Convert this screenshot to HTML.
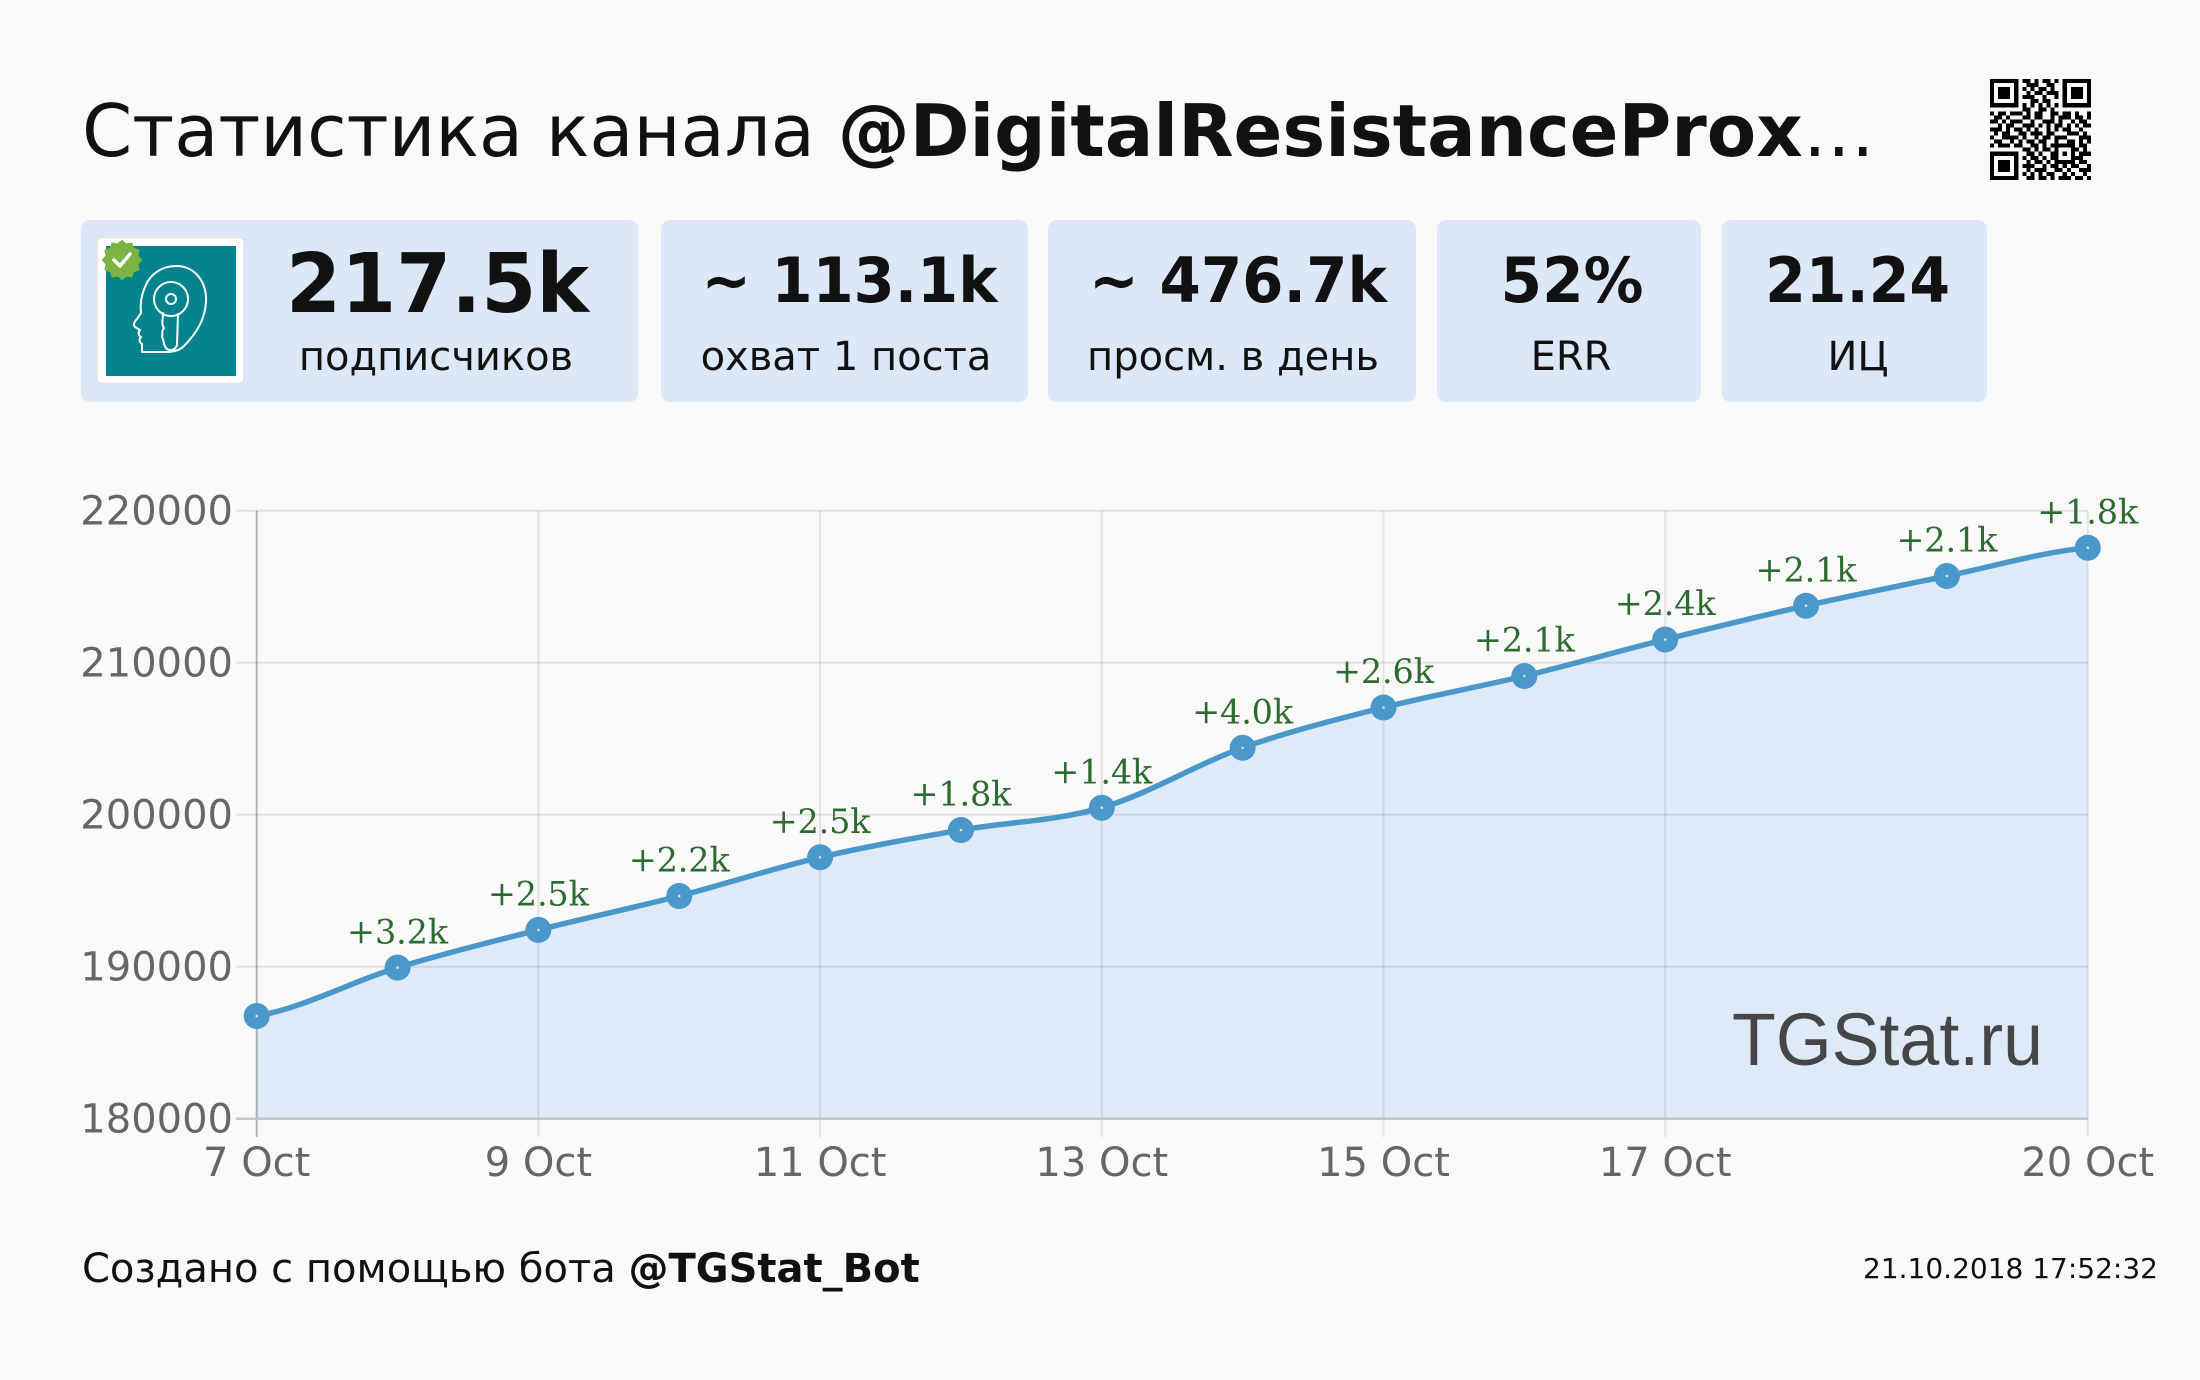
<!DOCTYPE html>
<html><head><meta charset="utf-8"><style>
html,body{margin:0;padding:0;background:#f9f9f9;}
svg{display:block;}
</style></head><body>
<svg width="2200" height="1380" viewBox="0 0 2200 1380" xmlns="http://www.w3.org/2000/svg" font-family="'DejaVu Sans', sans-serif">
<rect width="2200" height="1380" fill="#f9f9f9"/>

<!-- Title -->
<text x="82" y="156" font-size="72" fill="#111">Статистика канала <tspan font-weight="bold">@DigitalResistanceProx</tspan>…</text>

<!-- QR -->
<g transform="translate(1990,79) scale(4.04)" stroke="#000" stroke-width="1" shape-rendering="crispEdges" fill="none">
<line x1="0" x2="25" y1="0.5" y2="0.5" stroke-dasharray="7 1 2 1 1 1 2 1 1 1 7"/>
<line x1="0" x2="25" y1="1.5" y2="1.5" stroke-dasharray="1 5 1 2 3 2 2 2 1 5 1"/>
<line x1="0" x2="25" y1="2.5" y2="2.5" stroke-dasharray="1 1 3 1 1 1 1 1 1 1 2 1 1 2 1 1 3 1 1"/>
<line x1="0" x2="25" y1="3.5" y2="3.5" stroke-dasharray="1 1 3 1 1 2 1 1 2 1 3 1 1 1 3 1 1"/>
<line x1="0" x2="25" y1="4.5" y2="4.5" stroke-dasharray="1 1 3 1 1 1 3 2 1 2 1 1 1 1 3 1 1"/>
<line x1="0" x2="25" y1="5.5" y2="5.5" stroke-dasharray="1 5 1 3 2 1 2 3 1 5 1"/>
<line x1="0" x2="25" y1="6.5" y2="6.5" stroke-dasharray="7 1 1 1 1 1 1 1 1 1 1 1 7"/>
<line x1="0" x2="25" y1="7.5" y2="7.5" stroke-dasharray="0 8 2 2 2 1 1 9"/>
<line x1="0" x2="25" y1="8.5" y2="8.5" stroke-dasharray="1 1 2 1 3 1 1 1 2 2 2 1 2 1 1 2 1"/>
<line x1="0" x2="25" y1="9.5" y2="9.5" stroke-dasharray="0 1 2 1 1 3 2 1 2 2 1 1 3 1 2 1 1"/>
<line x1="0" x2="25" y1="10.5" y2="10.5" stroke-dasharray="2 1 1 1 3 2 1 2 3 1 1 2 1 1 2 1"/>
<line x1="0" x2="25" y1="11.5" y2="11.5" stroke-dasharray="0 2 1 1 2 2 3 1 1 1 1 1 2 1 1 1 1 1 2"/>
<line x1="0" x2="25" y1="12.5" y2="12.5" stroke-dasharray="3 1 1 1 2 1 1 1 1 2 1 1 1 1 2 2 1 2"/>
<line x1="0" x2="25" y1="13.5" y2="13.5" stroke-dasharray="0 1 1 1 2 2 2 1 3 1 2 3 3 1 1 1"/>
<line x1="0" x2="25" y1="14.5" y2="14.5" stroke-dasharray="1 2 4 1 1 2 1 1 2 1 3 3 3"/>
<line x1="0" x2="25" y1="15.5" y2="15.5" stroke-dasharray="0 1 2 2 1 1 1 1 2 1 2 2 1 2 2 1 1 1 1"/>
<line x1="0" x2="25" y1="16.5" y2="16.5" stroke-dasharray="1 1 3 1 2 2 2 1 1 1 6 1 2 1"/>
<line x1="0" x2="25" y1="17.5" y2="17.5" stroke-dasharray="0 8 2 1 1 1 2 1 1 3 2 1 1 1"/>
<line x1="0" x2="25" y1="18.5" y2="18.5" stroke-dasharray="7 2 2 1 1 2 2 1 1 1 1 1 3"/>
<line x1="0" x2="25" y1="19.5" y2="19.5" stroke-dasharray="1 5 1 1 1 1 2 1 1 1 2 3 3 2"/>
<line x1="0" x2="25" y1="20.5" y2="20.5" stroke-dasharray="1 1 3 1 1 2 1 1 2 1 1 1 5 1 2 1"/>
<line x1="0" x2="25" y1="21.5" y2="21.5" stroke-dasharray="1 1 3 1 1 1 3 2 1 1 2 1 1 1 2 2 1"/>
<line x1="0" x2="25" y1="22.5" y2="22.5" stroke-dasharray="1 1 3 1 1 2 1 1 3 2 2 1 1 2 3"/>
<line x1="0" x2="25" y1="23.5" y2="23.5" stroke-dasharray="1 5 1 1 1 1 1 1 1 1 2 2 1 1 1 2 1 1"/>
<line x1="0" x2="25" y1="24.5" y2="24.5" stroke-dasharray="7 2 2 1 2 1 1 1 3 1 2 1 1"/>
</g>

<!-- Cards -->
<g fill="#dce7f7">
<rect x="81" y="220" width="557" height="182" rx="9"/>
<rect x="661" y="220" width="367" height="182" rx="9"/>
<rect x="1048" y="220" width="368" height="182" rx="9"/>
<rect x="1437" y="220" width="264" height="182" rx="9"/>
<rect x="1722" y="220" width="265" height="182" rx="9"/>
</g>

<!-- Logo -->
<rect x="97" y="237.5" width="147" height="146" rx="5" fill="#fff" stroke="#e2e2e2" stroke-width="1.5"/>
<rect x="106" y="246" width="130" height="130" fill="#02838e"/>
<g fill="none" stroke="#fff" stroke-width="2" stroke-linejoin="round" stroke-linecap="round">
<path d="M142 352 L142 344 C139 342 139 339 141 337 C138 335 138 332 140 330 L135 327 C133 325 134 322 137 319 L141 313 C140 305 141 296 145 287 C150 274 162 266 176 266 C195 266 207 282 206 302 C205 320 196 334 184 346 C180 350 174 352 166 352 L142 352"/>
<circle cx="171" cy="299" r="17"/>
<circle cx="171" cy="299" r="5"/>
<path d="M163 313 C163 320 161 324 164 328 C161 331 163 334 162 337 C164 340 163 344 166 348 C170 352 175 350 177 345 L178 314"/>
</g>
<polygon fill="#7cb342" stroke="#7cb342" stroke-width="2" stroke-linejoin="round" points="141,260 137.46,264.14 138.45,269.5 133.31,271.31 131.5,276.45 126.14,275.46 122,279 117.86,275.46 112.5,276.45 110.69,271.31 105.55,269.5 106.54,264.14 103,260 106.54,255.86 105.55,250.5 110.69,248.69 112.5,243.55 117.86,244.54 122,241 126.14,244.54 131.5,243.55 133.31,248.69 138.45,250.5 137.46,255.86"/>
<path d="M114 260 L120 266 L130 254" fill="none" stroke="#fff" stroke-width="3.5" stroke-linecap="round" stroke-linejoin="round"/>

<!-- Card texts -->
<g fill="#111" text-anchor="middle">
<text x="437.5" y="312" font-size="82" font-weight="bold" textLength="303" lengthAdjust="spacingAndGlyphs">217.5k</text>
<text x="436" y="370" font-size="40">подписчиков</text>
<text x="849.5" y="302" font-size="62" font-weight="bold" textLength="296" lengthAdjust="spacingAndGlyphs">~ 113.1k</text>
<text x="846" y="370" font-size="40">охват 1 поста</text>
<text x="1238" y="302" font-size="62" font-weight="bold" textLength="298" lengthAdjust="spacingAndGlyphs">~ 476.7k</text>
<text x="1233" y="370" font-size="40">просм. в день</text>
<text x="1572" y="302" font-size="62" font-weight="bold" textLength="143" lengthAdjust="spacingAndGlyphs">52%</text>
<text x="1571" y="370" font-size="40">ERR</text>
<text x="1857.6" y="302" font-size="62" font-weight="bold" textLength="185" lengthAdjust="spacingAndGlyphs">21.24</text>
<text x="1858" y="370" font-size="40">ИЦ</text>
</g>

<!-- Chart area fill -->
<path fill="#dfeaf9" d="M256.7,1016 C303.65,1007.93 350.6,981.95 397.55,967.6 C444.5,953.25 491.45,941.83 538.4,929.9 C585.35,917.97 632.3,908.1 679.25,896 C726.2,883.9 773.15,868.3 820.1,857.3 C867.05,846.3 914,838.27 960.95,830 C1007.9,821.73 1054.85,821.4 1101.8,807.7 C1148.75,794 1195.7,764.5 1242.65,747.8 C1289.6,731.1 1336.55,719.47 1383.5,707.5 C1430.45,695.53 1477.4,687.33 1524.35,676 C1571.3,664.67 1618.25,651.22 1665.2,639.5 C1712.15,627.78 1759.1,616.28 1806.05,605.7 C1853,595.12 1899.95,585.67 1946.9,576 C1993.85,566.33 2040.8,552.42 2087.75,547.7 L2087.75,1118.7 L256.7,1118.7 Z"/>

<!-- Grid -->
<g stroke="rgba(0,0,0,0.09)" stroke-width="2">
<line x1="236" x2="2088" y1="510.7" y2="510.7"/>
<line x1="236" x2="2088" y1="662.7" y2="662.7"/>
<line x1="236" x2="2088" y1="814.7" y2="814.7"/>
<line x1="236" x2="2088" y1="966.7" y2="966.7"/>
<line x1="538.4" x2="538.4" y1="510.7" y2="1137"/>
<line x1="820.1" x2="820.1" y1="510.7" y2="1137"/>
<line x1="1101.8" x2="1101.8" y1="510.7" y2="1137"/>
<line x1="1383.5" x2="1383.5" y1="510.7" y2="1137"/>
<line x1="1665.2" x2="1665.2" y1="510.7" y2="1137"/>
<line x1="2087.75" x2="2087.75" y1="510.7" y2="1137"/>
</g>
<line x1="256.7" x2="256.7" y1="510.7" y2="1137" stroke="rgba(0,0,0,0.28)" stroke-width="2"/>
<line x1="236" x2="2088" y1="1118.7" y2="1118.7" stroke="#c2c5cc" stroke-width="2.5"/>

<!-- Y labels -->
<g fill="#666" font-size="40" text-anchor="end">
<text x="233" y="524.5">220000</text>
<text x="233" y="676.5">210000</text>
<text x="233" y="828.5">200000</text>
<text x="233" y="980.5">190000</text>
<text x="233" y="1132.5">180000</text>
</g>
<!-- X labels -->
<g fill="#666" font-size="40" text-anchor="middle">
<text x="256.7" y="1176">7 Oct</text>
<text x="538.4" y="1176">9 Oct</text>
<text x="820.1" y="1176">11 Oct</text>
<text x="1101.8" y="1176">13 Oct</text>
<text x="1383.5" y="1176">15 Oct</text>
<text x="1665.2" y="1176">17 Oct</text>
<text x="2087.75" y="1176">20 Oct</text>
</g>

<!-- Watermark -->
<text x="1732" y="1065" font-family="'Liberation Sans', sans-serif" font-size="74" fill="#464649" textLength="311" lengthAdjust="spacingAndGlyphs">TGStat.ru</text>

<!-- Line -->
<path fill="none" stroke="#4a97c9" stroke-width="5.5" stroke-linejoin="round" d="M256.7,1016 C303.65,1007.93 350.6,981.95 397.55,967.6 C444.5,953.25 491.45,941.83 538.4,929.9 C585.35,917.97 632.3,908.1 679.25,896 C726.2,883.9 773.15,868.3 820.1,857.3 C867.05,846.3 914,838.27 960.95,830 C1007.9,821.73 1054.85,821.4 1101.8,807.7 C1148.75,794 1195.7,764.5 1242.65,747.8 C1289.6,731.1 1336.55,719.47 1383.5,707.5 C1430.45,695.53 1477.4,687.33 1524.35,676 C1571.3,664.67 1618.25,651.22 1665.2,639.5 C1712.15,627.78 1759.1,616.28 1806.05,605.7 C1853,595.12 1899.95,585.67 1946.9,576 C1993.85,566.33 2040.8,552.42 2087.75,547.7"/>

<!-- Points -->
<g fill="#4a97c9">
<circle cx="256.7" cy="1016" r="13"/>
<circle cx="397.55" cy="967.6" r="13"/>
<circle cx="538.4" cy="929.9" r="13"/>
<circle cx="679.25" cy="896" r="13"/>
<circle cx="820.1" cy="857.3" r="13"/>
<circle cx="960.95" cy="830" r="13"/>
<circle cx="1101.8" cy="807.7" r="13"/>
<circle cx="1242.65" cy="747.8" r="13"/>
<circle cx="1383.5" cy="707.5" r="13"/>
<circle cx="1524.35" cy="676" r="13"/>
<circle cx="1665.2" cy="639.5" r="13"/>
<circle cx="1806.05" cy="605.7" r="13"/>
<circle cx="1946.9" cy="576" r="13"/>
<circle cx="2087.75" cy="547.7" r="13"/>
</g>
<g fill="#cfe2f2">
<circle cx="256.7" cy="1016" r="1.3"/>
<circle cx="397.55" cy="967.6" r="1.3"/>
<circle cx="538.4" cy="929.9" r="1.3"/>
<circle cx="679.25" cy="896" r="1.3"/>
<circle cx="820.1" cy="857.3" r="1.3"/>
<circle cx="960.95" cy="830" r="1.3"/>
<circle cx="1101.8" cy="807.7" r="1.3"/>
<circle cx="1242.65" cy="747.8" r="1.3"/>
<circle cx="1383.5" cy="707.5" r="1.3"/>
<circle cx="1524.35" cy="676" r="1.3"/>
<circle cx="1665.2" cy="639.5" r="1.3"/>
<circle cx="1806.05" cy="605.7" r="1.3"/>
<circle cx="1946.9" cy="576" r="1.3"/>
<circle cx="2087.75" cy="547.7" r="1.3"/>
</g>

<!-- Delta labels -->
<g fill="#2e6b30" font-family="'DejaVu Serif', serif" font-size="33.5" text-anchor="middle">
<text x="397.55" y="943.3" textLength="101" lengthAdjust="spacing">+3.2k</text>
<text x="538.4" y="905.6" textLength="101" lengthAdjust="spacing">+2.5k</text>
<text x="679.25" y="871.7" textLength="101" lengthAdjust="spacing">+2.2k</text>
<text x="820.1" y="833" textLength="101" lengthAdjust="spacing">+2.5k</text>
<text x="960.95" y="805.7" textLength="101" lengthAdjust="spacing">+1.8k</text>
<text x="1101.8" y="783.4" textLength="101" lengthAdjust="spacing">+1.4k</text>
<text x="1242.65" y="723.5" textLength="101" lengthAdjust="spacing">+4.0k</text>
<text x="1383.5" y="683.2" textLength="101" lengthAdjust="spacing">+2.6k</text>
<text x="1524.35" y="651.7" textLength="101" lengthAdjust="spacing">+2.1k</text>
<text x="1665.2" y="615.2" textLength="101" lengthAdjust="spacing">+2.4k</text>
<text x="1806.05" y="581.4" textLength="101" lengthAdjust="spacing">+2.1k</text>
<text x="1946.9" y="551.7" textLength="101" lengthAdjust="spacing">+2.1k</text>
<text x="2087.75" y="523.4" textLength="101" lengthAdjust="spacing">+1.8k</text>
</g>

<!-- Footer -->
<text x="82" y="1282" font-size="40" fill="#111">Создано с помощью бота <tspan font-weight="bold">@TGStat_Bot</tspan></text>
<text x="2158" y="1278" font-size="28" fill="#111" text-anchor="end">21.10.2018 17:52:32</text>
</svg>
</body></html>
